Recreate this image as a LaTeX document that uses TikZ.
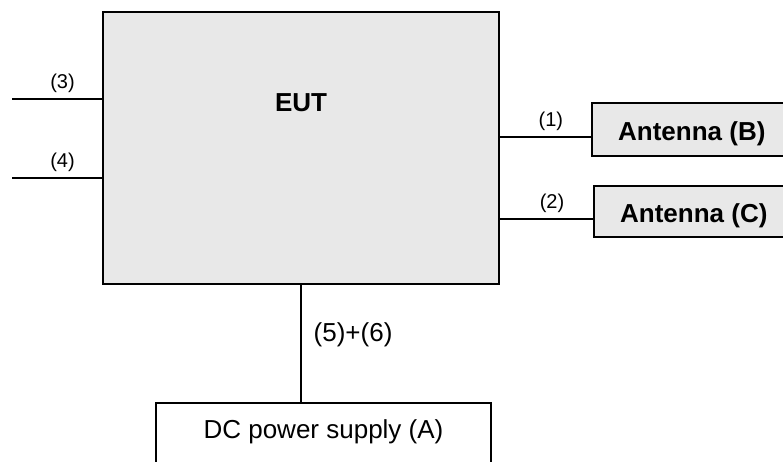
\documentclass[tikz,border=0pt]{standalone}
\usepackage{fontspec}
\setmainfont{Liberation Sans}
\usetikzlibrary{positioning}
\definecolor{boxgray}{HTML}{E8E8E8}
\tikzset{
    x=1pt,
    y=-1pt,
    block/.style = {
        draw,
        shape=rectangle,
        fill=boxgray,
        line width=1.6pt,
        inner sep=0pt
    },
    antenna/.style = {
        block,
        anchor=west,
        minimum width=200pt,
        text height=28pt,
        text depth=5.5pt,
        font=\fontsize{26}{30}\selectfont\bfseries
    },
    supply/.style = {
        block,
        fill=white,
        anchor=north,
        minimum width=335pt,
        inner ysep=8pt,
        text height=27.7pt,
        text depth=20pt,
        font=\fontsize{26}{30}\selectfont
    },
    title/.style = {
        inner sep=0pt,
        font=\fontsize{26}{30}\selectfont\bfseries
    },
    port/.style = {
        inner sep=0pt,
        font=\fontsize{20}{24}\selectfont
    },
    wire/.style = {
        line width=1.4pt
    },
}
\begin{document}
\begin{tikzpicture}
                \useasboundingbox (0,0) rectangle (783,461);
                \clip (0,0) rectangle (783,461);

                \node[block, minimum width=396pt, minimum height=272pt] (eut) at (301,148) {};
                \node[title] (euttitle) at (301,103) {EUT};
                \node[antenna, minimum height=53pt] (antb) at (591,129.5) {Antenna (B)};
                \node[antenna, minimum height=51pt] (antc) at (593,211.5) {Antenna (C)};
                \node[supply] (dc) at (323.5,402) {DC power supply (A)};

                \coordinate (in3) at (12,99);
                \coordinate (in4) at (12,178);
                \coordinate (out1) at ([yshift=-7.5pt]antb.west);
                \coordinate (out2) at ([yshift=-7.5pt]antc.west);

                \path[draw, wire] (in3) -- (in3 -| eut.west) node[port, pos=0.56, above=5.5pt] {(3)};
                \path[draw, wire] (in4) -- (in4 -| eut.west) node[port, pos=0.56, above=5.5pt] {(4)};
                \path[draw, wire] (eut.east |- out1) -- (out1) node[port, pos=0.56, above=5.5pt] {(1)};
                \path[draw, wire] (eut.east |- out2) -- (out2) node[port, pos=0.56, above=5.5pt] {(2)};
                \path[draw, wire] (eut.south) -- (eut.south |- dc.north)
                    node[pos=0.43, anchor=west, xshift=12pt, inner sep=0pt, font=\fontsize{26}{30}\selectfont] {(5)+(6)};
            \end{tikzpicture}
\end{document}
